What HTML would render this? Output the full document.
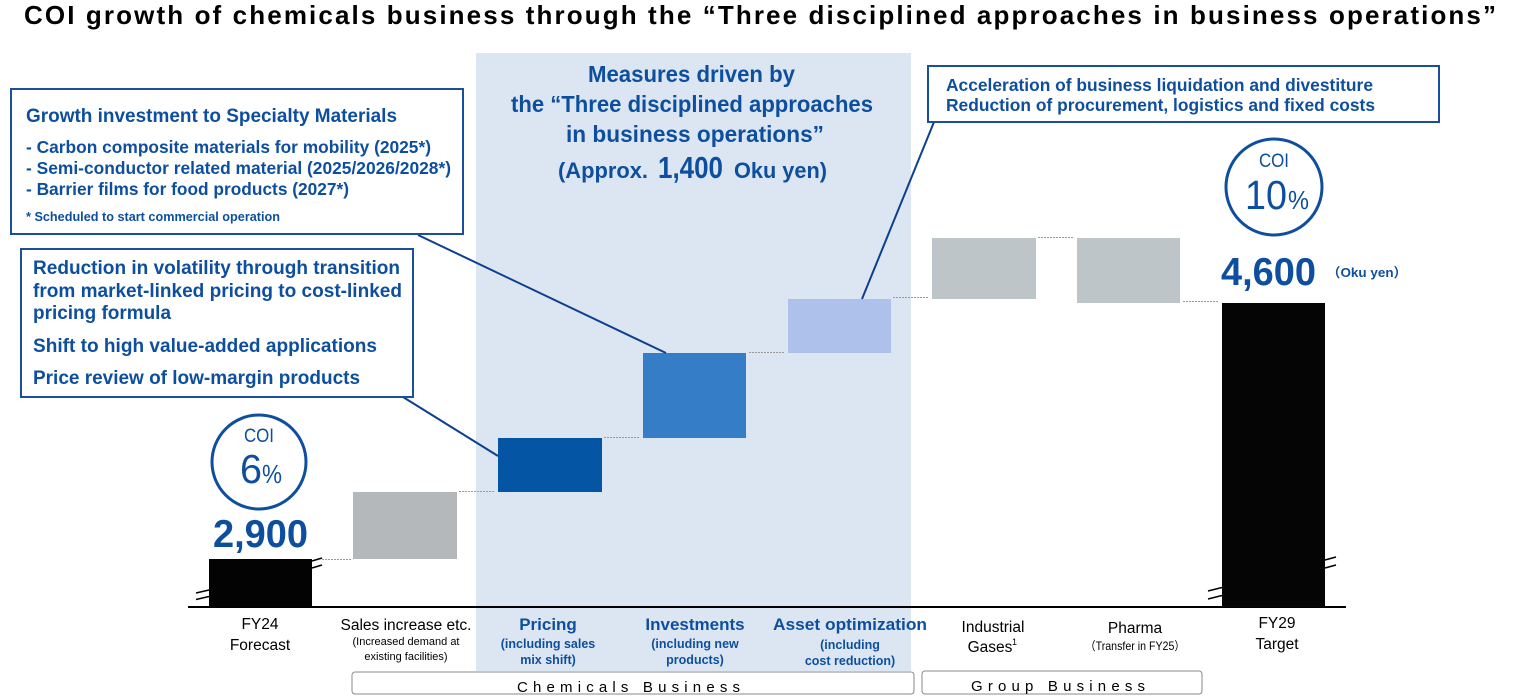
<!DOCTYPE html>
<html><head><meta charset="utf-8"><style>
html,body{margin:0;padding:0;background:#fff;}
svg{display:block;}
text{font-family:"Liberation Sans","Noto Sans CJK JP",sans-serif;}
.b{font-weight:bold;fill:#0d4f9e;}
.k{fill:#000;}
</style></head><body>
<svg width="1520" height="700" viewBox="0 0 1520 700" xmlns="http://www.w3.org/2000/svg">
<rect x="0" y="0" width="1520" height="700" fill="#fff"/>
<!-- shaded region -->
<rect x="476" y="53" width="435" height="618" fill="#dce6f2"/>

<!-- title -->
<text x="24" y="24" font-size="26" font-weight="bold" fill="#000" textLength="1472" lengthAdjust="spacing">COI growth of chemicals business through the “Three disciplined approaches in business operations”</text>

<!-- center heading -->
<text class="b" x="588" y="82" font-size="23" textLength="207" lengthAdjust="spacingAndGlyphs">Measures driven by</text>
<text class="b" x="511" y="112" font-size="23" textLength="362" lengthAdjust="spacingAndGlyphs">the “Three disciplined approaches</text>
<text class="b" x="566" y="142" font-size="23" textLength="258" lengthAdjust="spacingAndGlyphs">in business operations”</text>
<text class="b" x="558" y="178" font-size="22" textLength="90" lengthAdjust="spacingAndGlyphs">(Approx.</text>
<text class="b" x="658" y="178" font-size="31" textLength="65" lengthAdjust="spacingAndGlyphs">1,400</text>
<text class="b" x="734" y="178" font-size="22" textLength="93" lengthAdjust="spacingAndGlyphs">Oku yen)</text>

<!-- axis -->
<line x1="188" y1="607" x2="1346" y2="607" stroke="#000" stroke-width="2"/>

<!-- dotted connectors -->
<g stroke="#9a9a9a" stroke-width="1" stroke-dasharray="2,1">
<line x1="322" y1="559.5" x2="351" y2="559.5"/>
<line x1="459" y1="491.5" x2="495" y2="491.5"/>
<line x1="604" y1="437.5" x2="640" y2="437.5"/>
<line x1="749" y1="352.5" x2="785" y2="352.5"/>
<line x1="893" y1="297.5" x2="929" y2="297.5"/>
<line x1="1038" y1="237.5" x2="1074" y2="237.5"/>
<line x1="1183" y1="301.5" x2="1219" y2="301.5"/>
</g>

<!-- bars -->
<rect x="209" y="559" width="103" height="48" fill="#030303"/>
<rect x="353" y="492" width="104" height="67" fill="#b4b8ba"/>
<rect x="498" y="438" width="104" height="54" fill="#0455a3"/>
<rect x="643" y="353" width="103" height="85" fill="#357ec7"/>
<rect x="788" y="299" width="103" height="54" fill="#adc1ea"/>
<rect x="932" y="238" width="104" height="61" fill="#bec5c8"/>
<rect x="1077" y="238" width="103" height="65" fill="#bec5c8"/>
<rect x="1222" y="303" width="103" height="304" fill="#050505"/>

<!-- break marks -->
<g stroke="#000" stroke-width="1.5">
<line x1="196" y1="593" x2="209" y2="590"/>
<line x1="196" y1="599.5" x2="209" y2="596.5"/>
<line x1="312" y1="561" x2="322" y2="558"/>
<line x1="312" y1="568" x2="322" y2="565"/>
<line x1="1208" y1="591" x2="1222" y2="587.5"/>
<line x1="1208" y1="599" x2="1222" y2="595.5"/>
<line x1="1325" y1="560" x2="1336" y2="557"/>
<line x1="1325" y1="568" x2="1336" y2="565"/>
</g>

<!-- callout lines -->
<g stroke="#0d3f8f" stroke-width="2" fill="none">
<line x1="418" y1="235" x2="666" y2="353"/>
<line x1="403" y1="397" x2="498" y2="456"/>
<line x1="934" y1="122" x2="862" y2="299"/>
</g>

<!-- box 1 -->
<rect x="11" y="89" width="452" height="145" fill="#fff" stroke="#1b4e9b" stroke-width="2"/>
<text class="b" x="26" y="122" font-size="19" textLength="371" lengthAdjust="spacingAndGlyphs">Growth investment to Specialty Materials</text>
<text class="b" x="26" y="153" font-size="17.5" textLength="405" lengthAdjust="spacingAndGlyphs">- Carbon composite materials for mobility (2025*)</text>
<text class="b" x="26" y="174" font-size="17.5" textLength="425" lengthAdjust="spacingAndGlyphs">- Semi-conductor related material (2025/2026/2028*)</text>
<text class="b" x="26" y="195" font-size="17.5" textLength="323" lengthAdjust="spacingAndGlyphs">- Barrier films for food products (2027*)</text>
<text class="b" x="26" y="221" font-size="12.5" textLength="254" lengthAdjust="spacingAndGlyphs">* Scheduled to start commercial operation</text>

<!-- box 2 -->
<rect x="21" y="249" width="392" height="148" fill="#fff" stroke="#1b4e9b" stroke-width="2"/>
<text class="b" x="33" y="274" font-size="19" textLength="367" lengthAdjust="spacingAndGlyphs">Reduction in volatility through transition</text>
<text class="b" x="33" y="297" font-size="19" textLength="369" lengthAdjust="spacingAndGlyphs">from market-linked pricing to cost-linked</text>
<text class="b" x="33" y="319" font-size="19" textLength="138" lengthAdjust="spacingAndGlyphs">pricing formula</text>
<text class="b" x="33" y="352" font-size="19" textLength="344" lengthAdjust="spacingAndGlyphs">Shift to high value-added applications</text>
<text class="b" x="33" y="384" font-size="19" textLength="327" lengthAdjust="spacingAndGlyphs">Price review of low-margin products</text>

<!-- right box -->
<rect x="928" y="66" width="511" height="56" fill="#fff" stroke="#1b4e9b" stroke-width="2"/>
<text class="b" x="946" y="91" font-size="17.5" textLength="427" lengthAdjust="spacingAndGlyphs">Acceleration of business liquidation and divestiture</text>
<text class="b" x="946" y="111" font-size="17.5" textLength="429" lengthAdjust="spacingAndGlyphs">Reduction of procurement, logistics and fixed costs</text>

<!-- COI circles -->
<circle cx="259" cy="462" r="47" fill="#fff" stroke="#0d4f9e" stroke-width="3"/>
<text x="259" y="442" font-size="19" fill="#0d4f9e" text-anchor="middle" textLength="30" lengthAdjust="spacingAndGlyphs">COI</text>
<text x="240" y="483" font-size="41" fill="#0d4f9e" textLength="22" lengthAdjust="spacingAndGlyphs">6</text>
<text x="262" y="483" font-size="26" fill="#0d4f9e" textLength="20" lengthAdjust="spacingAndGlyphs">%</text>

<circle cx="1274" cy="187" r="48" fill="#fff" stroke="#0d4f9e" stroke-width="3"/>
<text x="1274" y="167" font-size="19" fill="#0d4f9e" text-anchor="middle" textLength="30" lengthAdjust="spacingAndGlyphs">COI</text>
<text x="1245" y="209" font-size="41" fill="#0d4f9e" textLength="42" lengthAdjust="spacingAndGlyphs">10</text>
<text x="1288" y="209" font-size="26" fill="#0d4f9e" textLength="21" lengthAdjust="spacingAndGlyphs">%</text>

<!-- values -->
<text class="b" x="213" y="547" font-size="39" textLength="95" lengthAdjust="spacingAndGlyphs">2,900</text>
<text class="b" x="1221" y="285" font-size="39" textLength="95" lengthAdjust="spacingAndGlyphs">4,600</text>
<text class="b" x="1327" y="277" font-size="13" textLength="80" lengthAdjust="spacingAndGlyphs">（Oku yen）</text>

<!-- bottom labels -->
<g font-size="15.5" fill="#000" text-anchor="middle">
<text x="260" y="629">FY24</text>
<text x="260" y="650">Forecast</text>
<text x="406" y="630" textLength="131" lengthAdjust="spacingAndGlyphs">Sales increase etc.</text>
<text x="993" y="632">Industrial</text>
<text x="990" y="652">Gases</text>
<text x="1135" y="633">Pharma</text>
<text x="1277" y="628">FY29</text>
<text x="1277" y="649">Target</text>
</g>
<text x="1012" y="645" font-size="9" fill="#000">1</text>
<g font-size="11" fill="#000" text-anchor="middle">
<text x="406" y="645">(Increased demand at</text>
<text x="406" y="660">existing facilities)</text>
</g>
<text x="1135" y="650" font-size="12" fill="#000" text-anchor="middle" textLength="100" lengthAdjust="spacingAndGlyphs">（Transfer in FY25）</text>

<g class="b" text-anchor="middle">
<text x="548" y="630" font-size="17">Pricing</text>
<text x="548" y="648" font-size="12.5">(including sales</text>
<text x="548" y="664" font-size="12.5">mix shift)</text>
<text x="695" y="630" font-size="17">Investments</text>
<text x="695" y="648" font-size="12.5">(including new</text>
<text x="695" y="664" font-size="12.5">products)</text>
<text x="850" y="630" font-size="17" textLength="154" lengthAdjust="spacingAndGlyphs">Asset optimization</text>
<text x="850" y="649" font-size="12.5">(including</text>
<text x="850" y="665" font-size="12.5">cost reduction)</text>
</g>

<!-- category boxes -->
<rect x="352" y="672" width="562" height="22" rx="3" fill="#fff" stroke="#8a8a8a" stroke-width="1"/>
<text x="517" y="692" font-size="15" fill="#000" textLength="223" lengthAdjust="spacing">Chemicals Business</text>
<rect x="922" y="671" width="280" height="23" rx="3" fill="#fff" stroke="#8a8a8a" stroke-width="1"/>
<text x="971" y="691" font-size="15" fill="#000" textLength="174" lengthAdjust="spacing">Group Business</text>
</svg>
</body></html>
